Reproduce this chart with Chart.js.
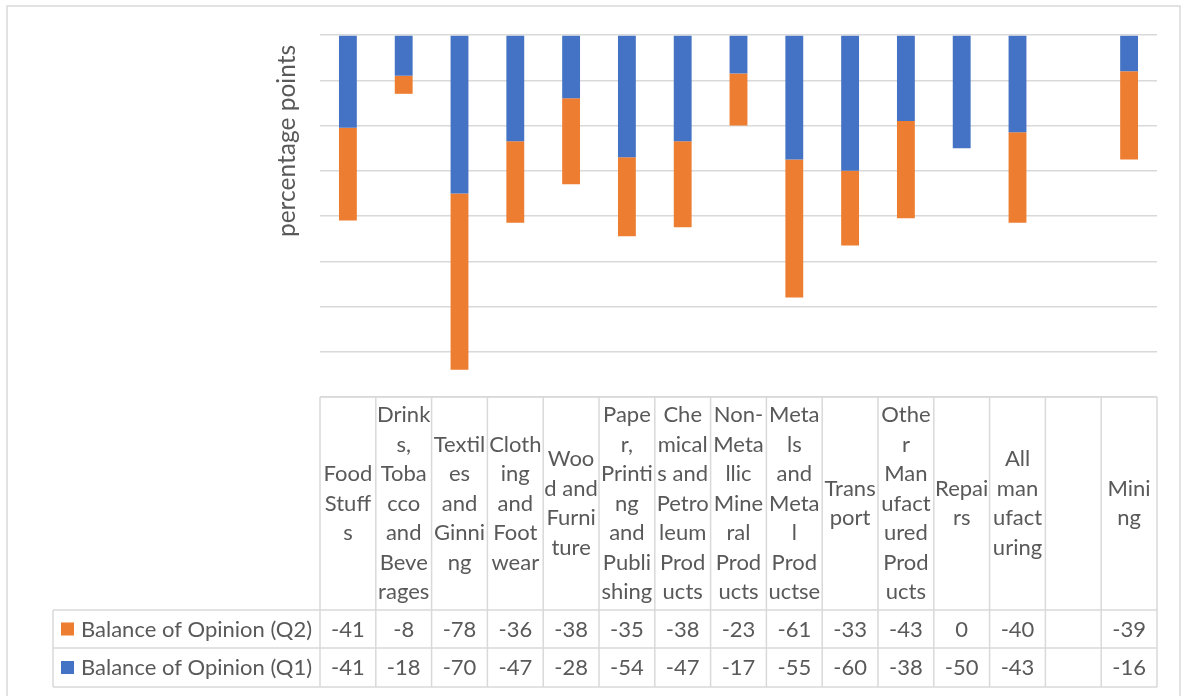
<!DOCTYPE html>
<html>
<head>
<meta charset="utf-8">
<script src="https://cdn.jsdelivr.net/npm/chart.js@4/dist/chart.umd.min.js"></script>
<style>
  html, body { margin: 0; padding: 0; background: #ffffff; }
  #wrap { width: 1188px; height: 696px; }
</style>
</head>
<body>
<div id="wrap"><canvas id="c" width="1188" height="696"></canvas></div>
<script>
// Sector labels, already broken into the lines shown in the table header
const categoryLines = [
  ["Food", "Stuff", "s"],
  ["Drink", "s,", "Toba", "cco", "and", "Beve", "rages"],
  ["Textil", "es", "and", "Ginni", "ng"],
  ["Cloth", "ing", "and", "Foot", "wear"],
  ["Woo", "d and", "Furni", "ture"],
  ["Pape", "r,", "Printi", "ng", "and", "Publi", "shing"],
  ["Che", "mical", "s and", "Petro", "leum", "Prod", "ucts"],
  ["Non-", "Meta", "llic", "Mine", "ral", "Prod", "ucts"],
  ["Meta", "ls", "and", "Meta", "l", "Prod", "uctse"],
  ["Trans", "port"],
  ["Othe", "r", "Man", "ufact", "ured", "Prod", "ucts"],
  ["Repai", "rs"],
  ["All", "man", "ufact", "uring"],
  [""],
  ["Mini", "ng"]
];

// Balance of opinion per sector (percentage points)
const q1Values = [-41, -18, -70, -47, -28, -54, -47, -17, -55, -60, -38, -50, -43, null, -16];
const q2Values = [-41, -8, -78, -36, -38, -35, -38, -23, -61, -33, -43, 0, -40, null, -39];

const q1Label = "Balance of Opinion (Q1)";
const q2Label = "Balance of Opinion (Q2)";
const yTitle = "percentage points";

const blue = "#4472C4";
const orange = "#ED7D31";
const gridColor = "#d9d9d9";
const textColor = "#595959";
const fontFamily = "Lato, 'Liberation Sans', sans-serif";

// Outer frame, axis title and the data table underneath the plot
const tablePlugin = {
  id: "dataTable",
  beforeDraw(chart) {
    const ctx = chart.ctx;
    ctx.save();
    ctx.fillStyle = "#ffffff";
    ctx.fillRect(0, 0, chart.width, chart.height);
    ctx.strokeStyle = gridColor;
    ctx.lineWidth = 1.5;
    ctx.strokeRect(7, 6, chart.width - 15, chart.height + 10);
    ctx.restore();
  },
  afterDraw(chart) {
    const ctx = chart.ctx;
    const area = chart.chartArea;
    const xs = chart.scales.x;
    const n = categoryLines.length;
    const colW = (area.right - area.left) / n;
    const headerTop = area.bottom;
    const headerBottom = headerTop + 213;
    const row1Bottom = headerBottom + 38;
    const row2Bottom = row1Bottom + 39;
    const legendLeft = 53;

    ctx.save();
    ctx.strokeStyle = gridColor;
    ctx.lineWidth = 1.5;
    ctx.beginPath();
    // horizontal rules
    ctx.moveTo(area.left, headerTop); ctx.lineTo(area.right, headerTop);
    [headerBottom, row1Bottom, row2Bottom].forEach(y => {
      ctx.moveTo(legendLeft, y); ctx.lineTo(area.right, y);
    });
    // vertical rules
    for (let i = 0; i <= n; i++) {
      const x = area.left + i * colW;
      ctx.moveTo(x, headerTop); ctx.lineTo(x, row2Bottom);
    }
    ctx.moveTo(legendLeft, headerBottom); ctx.lineTo(legendLeft, row2Bottom);
    ctx.stroke();

    ctx.fillStyle = textColor;
    ctx.font = "22px " + fontFamily;
    ctx.textAlign = "center";
    ctx.textBaseline = "middle";
    const lineH = 29.5;
    const headMid = (headerTop + headerBottom) / 2;
    categoryLines.forEach((lines, i) => {
      const cx = xs.getPixelForValue(i);
      const start = headMid - (lines.length - 1) * lineH / 2;
      lines.forEach((t, k) => ctx.fillText(t, cx, start + k * lineH));
    });

    const rows = [
      { label: q2Label, color: orange, values: q2Values, top: headerBottom, bottom: row1Bottom },
      { label: q1Label, color: blue, values: q1Values, top: row1Bottom, bottom: row2Bottom }
    ];
    rows.forEach(r => {
      const my = (r.top + r.bottom) / 2;
      ctx.fillStyle = r.color;
      ctx.fillRect(61, my - 6.5, 13, 13);
      ctx.fillStyle = textColor;
      ctx.textAlign = "left";
      ctx.fillText(r.label, 81, my + 0.5);
      ctx.textAlign = "center";
      r.values.forEach((v, i) => {
        if (v === null) return;
        ctx.fillText(String(v), xs.getPixelForValue(i), my + 0.5);
      });
    });

    // rotated axis title
    ctx.save();
    ctx.translate(287, 141);
    ctx.rotate(-Math.PI / 2);
    ctx.font = "24.5px " + fontFamily;
    ctx.textAlign = "center";
    ctx.textBaseline = "middle";
    ctx.fillText(yTitle, 0, 0);
    ctx.restore();
    ctx.restore();
  }
};

new Chart(document.getElementById("c"), {
  type: "bar",
  data: {
    labels: categoryLines.map(l => l.join("")),
    datasets: [
      { label: q1Label, data: q1Values, backgroundColor: blue, borderWidth: 0 },
      { label: q2Label, data: q2Values, backgroundColor: orange, borderWidth: 0 }
    ]
  },
  options: {
    responsive: false,
    animation: false,
    devicePixelRatio: 1,
    layout: { padding: { left: 320, right: 31, top: 35, bottom: 299 } },
    datasets: { bar: { categoryPercentage: 1.0, barPercentage: 0.32 } },
    plugins: { legend: { display: false }, tooltip: { enabled: false } },
    scales: {
      x: { stacked: true, display: false },
      y: {
        stacked: true,
        min: -160,
        max: 0,
        ticks: { stepSize: 20, display: false },
        border: { display: false },
        grid: { color: gridColor, lineWidth: 1.5, drawTicks: false },
        afterFit(s) { s.width = 0; }
      }
    }
  },
  plugins: [tablePlugin]
});
</script>
</body>
</html>
